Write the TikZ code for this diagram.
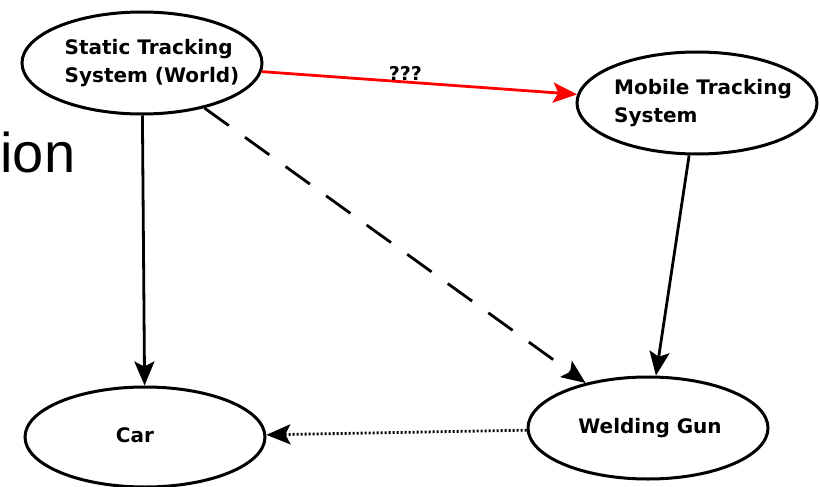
\documentclass[tikz,border=0pt]{standalone}
\usepackage{fontspec}
\setmainfont{DejaVu Sans}
\newfontfamily\ionfont{Liberation Sans}
\usetikzlibrary{shapes.geometric,arrows.meta}
\newcommand\shtext[2]{\makebox[0pt]{\hspace*{#1}\begin{tabular}{@{}l@{}}#2\end{tabular}}}
\begin{document}
\begin{tikzpicture}[x=1pt,y=-1pt,
  ell/.style={draw,ellipse,line width=3pt,minimum width=240pt,minimum height=102pt,inner sep=0pt,
    font=\fontsize{20}{28}\selectfont\bfseries},
  conn/.style={line width=2.8pt,-{Stealth[length=24pt,width=20pt,inset=5pt]}}]
\useasboundingbox (0,0) rectangle (820,487);
\node[anchor=base west,font=\ionfont\fontsize{56}{60}\selectfont] (ion) at (-3,172) {ion};
\node[ell] (st) at (142,63) {\shtext{20pt}{Static Tracking\\System (World)}};
\node[ell] (mob) at (697,103) {\shtext{12pt}{Mobile Tracking\\System}};
\node[ell,minimum height=100pt] (car) at (145,437) {\shtext{-20pt}{Car}};
\node[ell] (wg) at (648,428) {\shtext{4pt}{Welding Gun}};
\draw[conn,red] (st) -- node[pos=0.455,above=-3pt,black,font=\fontsize{19}{22}\selectfont\bfseries] (q) {???} (mob);
\draw[conn] (st) -- (car);
\draw[conn,dash pattern=on 30pt off 20pt] (st) -- (wg);
\draw[conn] (mob) -- (wg);
\draw[conn,dash pattern=on 2pt off 2pt] (wg) -- (car);
\end{tikzpicture}
\end{document}
